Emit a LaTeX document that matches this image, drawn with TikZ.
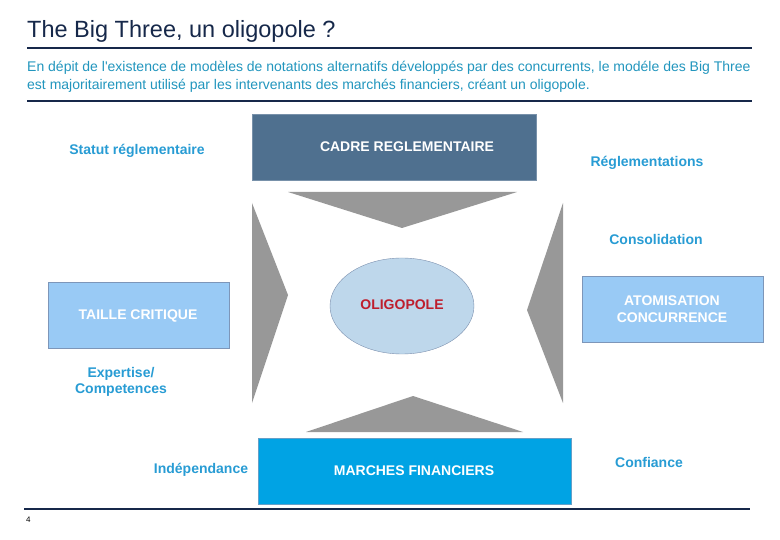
\documentclass[tikz,border=0pt]{standalone}
\usepackage{fontspec}
\setmainfont{Liberation Sans}
\newfontfamily\subfont{Liberation Sans}
\usetikzlibrary{shapes.geometric}
\definecolor{navy}{RGB}{22,40,74}
\definecolor{subteal}{RGB}{34,150,190}
\definecolor{lbl}{RGB}{40,156,212}
\definecolor{cadre}{RGB}{79,112,143}
\definecolor{cadreb}{RGB}{120,145,170}
\definecolor{lightbox}{RGB}{153,202,245}
\definecolor{lightboxb}{RGB}{125,150,185}
\definecolor{marche}{RGB}{0,163,228}
\definecolor{marcheb}{RGB}{100,160,200}
\definecolor{ellfill}{RGB}{190,215,235}
\definecolor{ellb}{RGB}{125,145,175}
\definecolor{oligo}{RGB}{190,30,45}
\definecolor{arrgray}{RGB}{152,152,152}
\begin{document}
\begin{tikzpicture}[x=1pt,y=-1pt,
  lbltext/.style={text=lbl,font=\fontsize{14}{17}\selectfont\bfseries,inner sep=0pt,align=center},
  boxtext/.style={text=white,font=\fontsize{14}{17}\selectfont\bfseries,inner sep=0pt},
  rule/.style={navy,line width=2pt},
  tri/.style={fill=arrgray,draw=none}]
\useasboundingbox (0,0) rectangle (780,540);
\fill[white] (0,0) rectangle (780,540);
% title
\node[anchor=base west,inner sep=0pt,text=navy,font=\fontsize{23.5}{28}\selectfont] (title) at (27,37.5) {The Big Three, un oligopole ?};
\draw[rule] (27,48) -- (752,48);
\node[anchor=base west,inner sep=0pt,text=subteal,font=\subfont\fontsize{14}{18}\selectfont,align=left] (sub) at (27,90)
  {En dépit de l'existence de modèles de notations alternatifs développés par des concurrents, le modéle des Big Three\\
   est majoritairement utilisé par les intervenants des marchés financiers, créant un oligopole.};
\draw[rule] (27,101) -- (752,101);
% gray arrows
\fill[tri] (288,192) -- (517,192) -- (402,228) -- cycle;
\fill[tri] (252,203) -- (288,295) -- (252,403) -- cycle;
\fill[tri] (563,203) -- (527,310) -- (563,403) -- cycle;
\fill[tri] (306,432) -- (413,396) -- (523,432) -- cycle;
% boxes
\draw[fill=cadre,draw=cadreb] (252,114) rectangle (536,180);
\node[boxtext,anchor=base] (cadre) at (407,152) {CADRE REGLEMENTAIRE};
\draw[fill=lightbox,draw=lightboxb] (48,282) rectangle (229,348);
\node[boxtext,anchor=base] (taille) at (138,320) {TAILLE CRITIQUE};
\draw[fill=lightbox,draw=lightboxb] (582,276) rectangle (763,342);
\node[boxtext,anchor=base,align=center] (atom) at (672,323) {ATOMISATION\\CONCURRENCE};
\draw[fill=marche,draw=marcheb] (258,438) rectangle (571,504);
\node[boxtext,anchor=base] (marche) at (414,475) {MARCHES FINANCIERS};
\node[ellipse,fill=ellfill,draw=ellb,minimum width=144pt,minimum height=96pt,inner sep=0pt] (ell) at (402,306) {};
\node[anchor=base,inner sep=0pt,text=oligo,font=\fontsize{14}{17}\selectfont\bfseries] (oligo) at (402,310) {OLIGOPOLE};
% labels
\node[lbltext,anchor=base] (statut) at (137,155) {Statut réglementaire};
\node[lbltext,anchor=base] (regl) at (647,167) {Réglementations};
\node[lbltext,anchor=base] (conso) at (656,245) {Consolidation};
\node[lbltext,anchor=base] (expert) at (121,394) {Expertise/\\Competences};
\node[lbltext,anchor=base] (indep) at (201,473) {Indépendance};
\node[lbltext,anchor=base] (conf) at (649,467) {Confiance};
% footer
\draw[rule] (24,509) -- (750,509);
\node[anchor=base west,inner sep=0pt,font=\fontsize{8}{9}\selectfont] (pnum) at (26,522) {4};
\end{tikzpicture}
\end{document}
